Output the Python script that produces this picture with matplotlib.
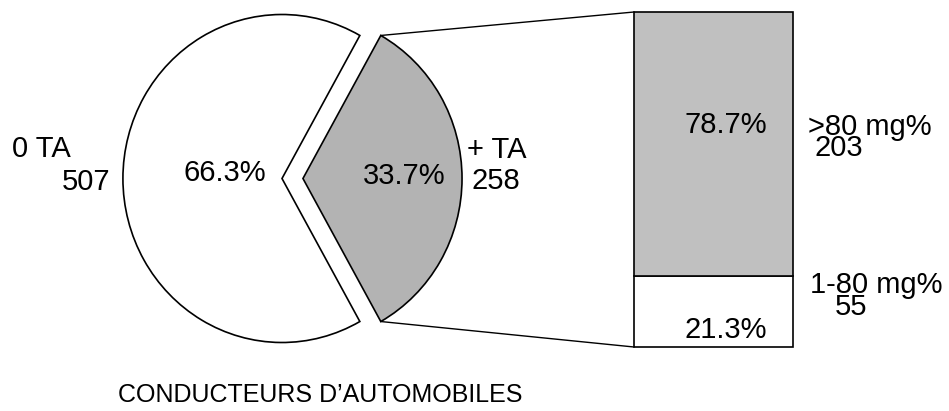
import matplotlib
matplotlib.use('Agg')
import matplotlib.pyplot as plt
from matplotlib.transforms import Affine2D
import numpy as np

plt.rcParams['font.family'] = ['Liberation Sans', 'DejaVu Sans']

# données
pie_labels = ['+ TA', '0 TA']
pie_counts = [258, 507]
bar_labels = ['1-80 mg%', '>80 mg%']
bar_counts = [55, 203]
title_txt = 'CONDUCTEURS D\u2019AUTOMOBILES'

W, H = 949, 411
fig = plt.figure(figsize=(W / 100, H / 100), dpi=100)
ax = fig.add_axes([0, 0, 1, 1])

# camembert (unités = pixels, y vers le haut), un peu aplati en largeur
R = 164
sx = 0.97
cx, cy = 282, 232.5
gap = 21.6
tot = sum(pie_counts)
frac_pos = pie_counts[0] / tot
start = -frac_pos * 180
# explode est en unités de données (pas en fraction du rayon)
wedges, _ = ax.pie(pie_counts, colors=['#b3b3b3', 'white'], startangle=start,
                   radius=R, center=(cx, cy), explode=[gap, 0], frame=True,
                   wedgeprops=dict(edgecolor='black', linewidth=1.2))
squash = Affine2D().translate(-cx, -cy).scale(sx, 1).translate(cx, cy) + ax.transData
for w in wedges:
    w.set_transform(squash)

# barre empilée
bx, bw = 713.5, 159
by0, bh = 64, 335
btot = sum(bar_counts)
heights = [c / btot * bh for c in bar_counts]
ax.bar(bx, heights[0], width=bw, bottom=by0, color='white',
       edgecolor='black', linewidth=1.2)
ax.bar(bx, heights[1], width=bw, bottom=by0 + heights[0], color='#c0c0c0',
       edgecolor='black', linewidth=1.2)

# lignes de liaison
th = np.radians(-start)
px = cx + sx * (gap + R * np.cos(th))
ax.plot([px, bx - bw / 2], [cy + R * np.sin(th), by0 + bh], color='black', lw=1)
ax.plot([px, bx - bw / 2], [cy - R * np.sin(th), by0], color='black', lw=1)

fs = 21
pct_pie = [c / tot * 100 for c in pie_counts]
pct_bar = [c / btot * 100 for c in bar_counts]
ax.text(12, 262, pie_labels[1], fontsize=fs, ha='left', va='center')
ax.text(110, 229, str(pie_counts[1]), fontsize=fs, ha='right', va='center')
ax.text(225, 238, f'{pct_pie[1]:.1f}%', fontsize=fs, ha='center', va='center')
ax.text(404, 235, f'{pct_pie[0]:.1f}%', fontsize=fs, ha='center', va='center')
ax.text(467, 261, pie_labels[0], fontsize=fs, ha='left', va='center')
ax.text(472, 230, str(pie_counts[0]), fontsize=fs, ha='left', va='center')

ax.text(726, 286, f'{pct_bar[1]:.1f}%', fontsize=fs, ha='center', va='center')
ax.text(726, 81, f'{pct_bar[0]:.1f}%', fontsize=fs, ha='center', va='center')
ax.text(808, 284, bar_labels[1], fontsize=fs, ha='left', va='center')
ax.text(815, 263, str(bar_counts[1]), fontsize=fs, ha='left', va='center')
ax.text(810, 126, bar_labels[0], fontsize=fs, ha='left', va='center')
ax.text(835, 104, str(bar_counts[0]), fontsize=fs, ha='left', va='center')

ax.text(320, 16, title_txt, fontsize=18, ha='center', va='center')

ax.set_xlim(0, W)
ax.set_ylim(0, H)
ax.set_aspect('auto')
ax.axis('off')

plt.savefig('out.png', dpi=100, facecolor='white')
plt.close()
